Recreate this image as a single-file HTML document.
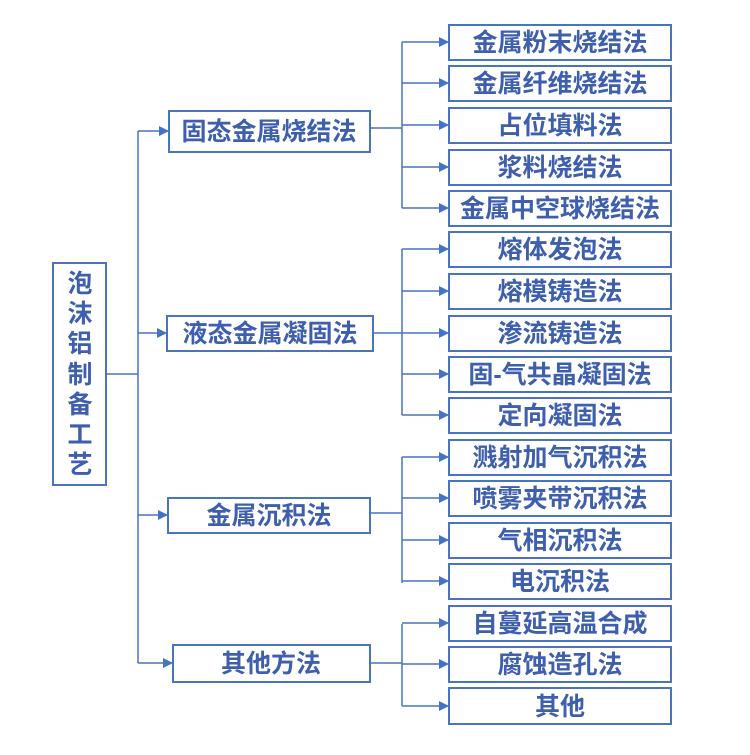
<!DOCTYPE html>
<html><head><meta charset="utf-8"><style>
html,body{margin:0;padding:0;background:#fff;}
svg text{font-family:"Liberation Sans","Noto Sans CJK SC",sans-serif;font-weight:bold;fill:#3d5fae;}
</style></head><body>
<svg width="750" height="750" viewBox="0 0 750 750" xmlns="http://www.w3.org/2000/svg">
<defs><marker id="a" markerWidth="10" markerHeight="10" refX="9" refY="5" orient="auto" markerUnits="userSpaceOnUse"><path d="M0,0 L10,5 L0,10 z" fill="#4472c4"/></marker></defs>
<g stroke="#4a74c0" stroke-width="2" fill="none">
<rect x="53" y="263" width="53" height="222"/>
<rect x="169" y="111" width="201" height="41"/>
<rect x="167" y="316" width="206" height="35"/>
<rect x="168" y="498" width="202" height="35"/>
<rect x="173" y="645" width="197" height="37"/>
<rect x="449" y="25" width="222" height="35"/><rect x="449" y="66" width="222" height="35"/>
<rect x="449" y="108" width="222" height="35"/><rect x="449" y="150" width="222" height="35"/>
<rect x="449" y="191" width="222" height="35"/><rect x="449" y="232" width="222" height="35"/>
<rect x="449" y="274" width="222" height="35"/><rect x="449" y="316" width="222" height="35"/>
<rect x="449" y="357" width="222" height="35"/><rect x="449" y="398" width="222" height="35"/>
<rect x="449" y="440" width="222" height="35"/><rect x="449" y="481" width="222" height="35"/>
<rect x="449" y="523" width="222" height="35"/><rect x="449" y="564" width="222" height="35"/>
<rect x="449" y="606" width="222" height="35"/><rect x="449" y="647" width="222" height="35"/>
<rect x="449" y="688" width="222" height="36"/>
</g>
<g stroke="#4a74c0" stroke-width="1.5" fill="none">
<path d="M106,374 H138 M138,131 V663"/>
<path d="M138,131 H168" marker-end="url(#a)"/><path d="M138,333 H166" marker-end="url(#a)"/>
<path d="M138,515 H167" marker-end="url(#a)"/><path d="M138,663 H172" marker-end="url(#a)"/>
<path d="M370,128 H402 M402,42 V208 M373,333 H402 M402,249 V415 M370,513 H402 M402,457 V583 M370,663 H402 M402,624 V706"/>
<path d="M402,42 H448" marker-end="url(#a)"/><path d="M402,83 H448" marker-end="url(#a)"/>
<path d="M402,125 H448" marker-end="url(#a)"/><path d="M402,167 H448" marker-end="url(#a)"/>
<path d="M402,208 H448" marker-end="url(#a)"/><path d="M402,249 H448" marker-end="url(#a)"/>
<path d="M402,291 H448" marker-end="url(#a)"/><path d="M402,333 H448" marker-end="url(#a)"/>
<path d="M402,374 H448" marker-end="url(#a)"/><path d="M402,415 H448" marker-end="url(#a)"/>
<path d="M402,457 H448" marker-end="url(#a)"/><path d="M402,498 H448" marker-end="url(#a)"/>
<path d="M402,540 H448" marker-end="url(#a)"/><path d="M402,581 H448" marker-end="url(#a)"/>
<path d="M402,623 H448" marker-end="url(#a)"/><path d="M402,664 H448" marker-end="url(#a)"/>
<path d="M402,706 H448" marker-end="url(#a)"/>
</g>
<g font-size="25" text-anchor="middle">
<text x="80" y="292">泡</text><text x="80" y="322">沫</text><text x="80" y="352">铝</text><text x="80" y="383">制</text><text x="80" y="413">备</text><text x="80" y="443">工</text><text x="80" y="473">艺</text>
</g>
<g font-size="25" text-anchor="middle">
<text x="269" y="140">固态金属烧结法</text>
<text x="270" y="342">液态金属凝固法</text>
<text x="269" y="524">金属沉积法</text>
<text x="271" y="672">其他方法</text>
<text x="560" y="51">金属粉末烧结法</text>
<text x="560" y="92">金属纤维烧结法</text>
<text x="560" y="134">占位填料法</text>
<text x="560" y="176">浆料烧结法</text>
<text x="560" y="217">金属中空球烧结法</text>
<text x="560" y="258">熔体发泡法</text>
<text x="560" y="300">熔模铸造法</text>
<text x="560" y="342">渗流铸造法</text>
<text x="560" y="383">固-气共晶凝固法</text>
<text x="560" y="424">定向凝固法</text>
<text x="560" y="466">溅射加气沉积法</text>
<text x="560" y="507">喷雾夹带沉积法</text>
<text x="560" y="549">气相沉积法</text>
<text x="560" y="590">电沉积法</text>
<text x="560" y="632">自蔓延高温合成</text>
<text x="560" y="673">腐蚀造孔法</text>
<text x="560" y="715">其他</text>
</g>
</svg>
</body></html>
